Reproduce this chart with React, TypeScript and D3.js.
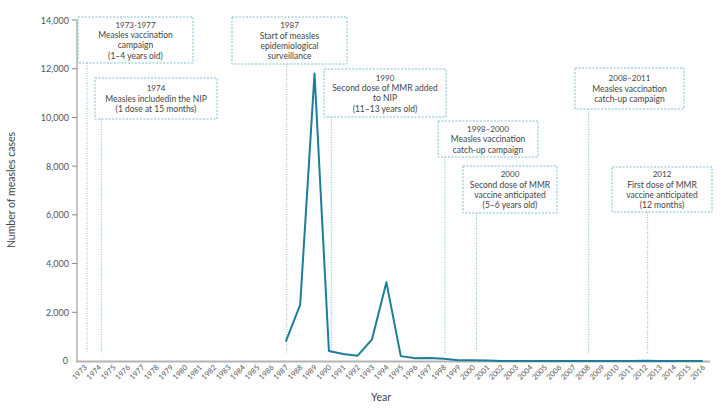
import React from "react";
import * as d3 from "d3";

const years: number[] = d3.range(1973, 2017);
const caseYears: number[] = [1987, 1988, 1989, 1990, 1991, 1992, 1993, 1994, 1995, 1996, 1997, 1998, 1999, 2000, 2001, 2002, 2003, 2004, 2005, 2006, 2007, 2008, 2009, 2010, 2011, 2012, 2013, 2014, 2015, 2016];
const cases: number[] = [800, 2300, 11800, 410, 290, 220, 890, 3230, 200, 110, 120, 90, 30, 30, 20, 5, 3, 2, 1, 2, 3, 2, 4, 2, 3, 10, 2, 1, 3, 5];
const yTicks: number[] = [0, 2000, 4000, 6000, 8000, 10000, 12000, 14000];

type Note = { year: number; lines: string[]; x0: number; x1: number; y0: number; y1: number };
const notes: Note[] = [
  { year: 1973.1, lines: ["1973-1977", "Measles vaccination", "campaign", "(1–4 years old)"], x0: 78, x1: 193, y0: 17, y1: 63 },
  { year: 1974.1, lines: ["1974", "Measles includedin the NIP", "(1 dose at 15  months)"], x0: 95, x1: 217, y0: 78, y1: 119 },
  { year: 1987, lines: ["1987", "Start of measles", "epidemiological", "surveillance"], x0: 232, x1: 347, y0: 17, y1: 64 },
  { year: 1990.1, lines: ["1990", "Second dose of MMR  added", "to NIP", "(11–13 years old)"], x0: 324, x1: 446, y0: 69, y1: 117 },
  { year: 1998, lines: ["1998–2000", "Measles vaccination", "catch-up campaign"], x0: 438, x1: 538, y0: 121, y1: 157 },
  { year: 2000.2, lines: ["2000", "Second dose of MMR", "vaccine anticipated", "(5–6 years old)"], x0: 463, x1: 557, y0: 166, y1: 213 },
  { year: 2008, lines: ["2008–2011", "Measles vaccination", "catch-up campaign"], x0: 575, x1: 684, y0: 68, y1: 109 },
  { year: 2012.1, lines: ["2012", "First dose of MMR", "vaccine anticipated", "(12  months)"], x0: 612, x1: 712, y0: 167, y1: 212 },
];

const W = 725;
const H = 412;
const FONT = "Lato, 'Open Sans', sans-serif";
const TEAL = "#1c7f98";
const DOT = "#7cc3d3";
const AXIS = "#b3b3b3";

export default function App() {
  const x = d3.scaleLinear().domain([1973, 2016]).range([84.5, 702.7]);
  const y = d3.scaleLinear().domain([0, 14000]).range([361, 20]);
  const line = d3
    .line<number>()
    .x((_, i) => x(caseYears[i]))
    .y((d) => y(d));
  const fmt = d3.format(",");

  return (
    <svg width={W} height={H} style={{ position: "absolute", left: 0, top: 0, fontFamily: FONT }}>
      <rect width={W} height={H} fill="#fff" />
      {/* annotation leader lines */}
      {notes.map((n, i) => (
        <line key={"l" + i} x1={x(n.year) + 1} x2={x(n.year) + 1} y1={n.y1} y2={353} stroke={DOT} strokeWidth={1} strokeDasharray="1,1.5" />
      ))}
      {/* axes */}
      <line x1={77} x2={77} y1={20} y2={362} stroke={AXIS} strokeWidth={1.5} />
      <line x1={76} x2={710} y1={361.5} y2={361.5} stroke={AXIS} strokeWidth={2} />
      {yTicks.map((t) => (
        <g key={t}>
          {t > 0 && <line x1={72} x2={77} y1={y(t)} y2={y(t)} stroke="#888" strokeWidth={1} />}
          <text x={t > 0 ? 69 : 68} y={t > 0 ? y(t) + 3.5 : y(t) + 3} textAnchor="end" fontSize={9} fill="#555">
            {fmt(t)}
          </text>
        </g>
      ))}
      {years.map((yr) => (
        <text
          key={yr}
          transform={`translate(${x(yr) + 3},${368}) rotate(-45)`}
          textAnchor="end"
          fontSize={7.5}
          fill="#555"
        >
          {yr}
        </text>
      ))}
      {/* data line */}
      <path d={line(cases) || ""} fill="none" stroke={TEAL} strokeWidth={2} strokeLinejoin="round" />
      {/* annotation boxes */}
      {notes.map((n, i) => {
        const cx = (n.x0 + n.x1) / 2;
        const h = n.y1 - n.y0;
        const lh = 10.3;
        const startY = n.y0 + h / 2 - ((n.lines.length - 1) * lh) / 2 + 3.2;
        return (
          <g key={"b" + i}>
            <rect x={n.x0} y={n.y0} width={n.x1 - n.x0} height={h} fill="#fff" stroke={DOT} strokeWidth={1} strokeDasharray="2,1.5" />
            {n.lines.map((s, j) => (
              <text key={j} x={cx} y={startY + j * lh} textAnchor="middle" fontSize={j === 0 ? 8 : 8.5} fill="#444">
                {s}
              </text>
            ))}
          </g>
        );
      })}
      {/* axis titles */}
      <text transform={`translate(15,190) rotate(-90)`} textAnchor="middle" fontSize={10.5} fill="#444">
        Number of measles cases
      </text>
      <text x={381} y={401} textAnchor="middle" fontSize={10.5} fill="#444">
        Year
      </text>
    </svg>
  );
}
